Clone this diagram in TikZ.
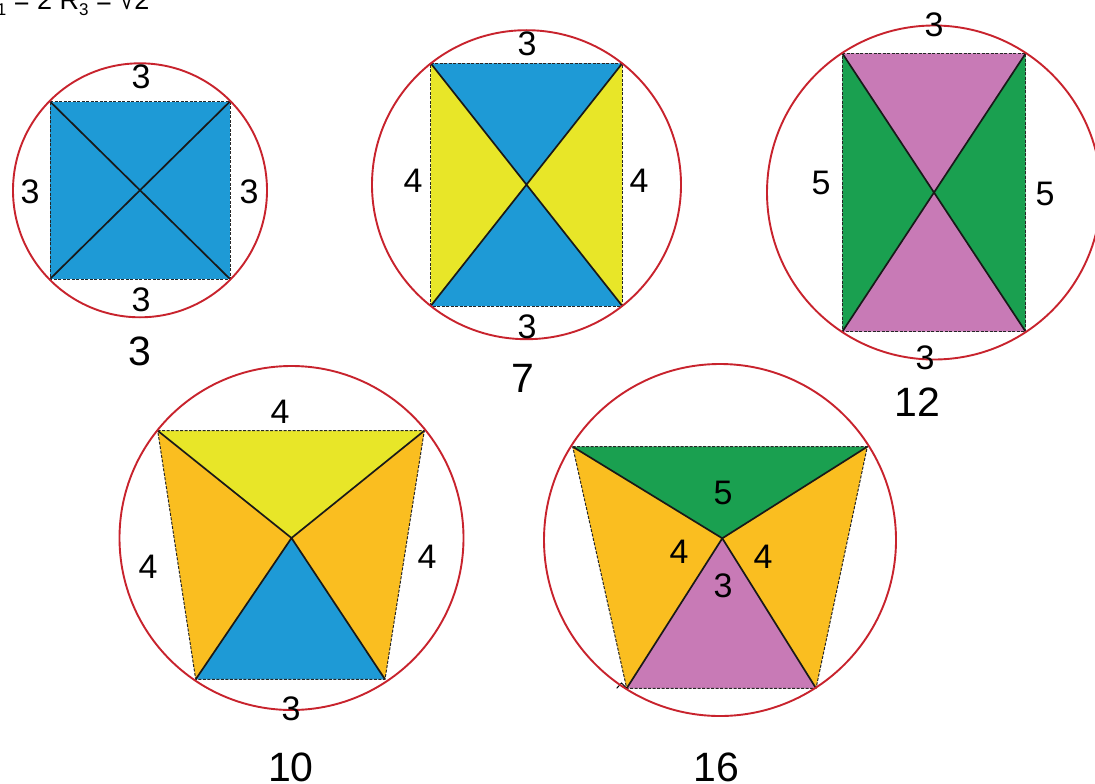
\documentclass[tikz,border=0pt]{standalone}
\usepackage{fontspec}
\setmainfont{Liberation Sans}
\definecolor{cblue}{RGB}{30,154,214}
\definecolor{cyellow}{RGB}{232,230,40}
\definecolor{cgreen}{RGB}{26,160,80}
\definecolor{cpink}{RGB}{200,122,182}
\definecolor{corange}{RGB}{250,190,32}
\definecolor{cred}{RGB}{200,35,45}
\newcommand{\sbt}[1]{\raisebox{-0.2em}{\fontsize{17}{17}\selectfont #1}}
\tikzset{
  ring/.style={draw=cred,line width=1.9pt},
  diag/.style={draw=black!90,line width=1.7pt,line join=round},
  rimline/.style={draw=black!85,line width=1pt,dash pattern=on 3pt off 1.5pt},
  lab/.style={inner sep=0pt,font=\fontsize{34}{34}\selectfont},
  capt/.style={inner sep=0pt,font=\fontsize{41}{41}\selectfont},
}
\begin{document}
\begin{tikzpicture}[x=1pt,y=-1pt]
\useasboundingbox (0,0) rectangle (1095,784);
\clip (0,0) rectangle (1095,784);
\fill[white] (0,0) rectangle (1095,784);

% title (cut at the top)
\node[anchor=base west,inner sep=0pt,font=\fontsize{27}{27}\selectfont] (title) at (-22.7,10) {R\sbt{1} = 2 R\sbt{3} = √2};

% ---------- figure 3 (square) ----------
\coordinate (a1) at (50,101.5);
\coordinate (b1) at (230,101.5);
\coordinate (c1) at (230,279);
\coordinate (d1) at (50,279);
\coordinate (o1) at (140,190.3);
\fill[cblue] (a1) -- (b1) -- (c1) -- (d1) -- cycle;
\draw[diag] (a1) -- (c1) (b1) -- (d1);
\draw[rimline] (a1) -- (b1) -- (c1) -- (d1) -- cycle;
\draw[ring] (o1) circle[radius=127];
\node[lab] (t1) at (141,77) {3};
\node[lab] (l1) at (30,191.5) {3};
\node[lab] (r1) at (249,191.5) {3};
\node[lab] (u1) at (141,300) {3};
\node[capt] (n1) at (140,351) {3};

% ---------- figure 7 ----------
\coordinate (a2) at (430.7,63.3);
\coordinate (b2) at (622.3,63.3);
\coordinate (c2) at (622.3,306);
\coordinate (d2) at (430.7,306);
\coordinate (o2) at (526.5,184.7);
\fill[cblue] (a2) -- (b2) -- (o2) -- cycle;
\fill[cblue] (d2) -- (c2) -- (o2) -- cycle;
\fill[cyellow] (a2) -- (d2) -- (o2) -- cycle;
\fill[cyellow] (b2) -- (c2) -- (o2) -- cycle;
\draw[diag] (a2) -- (c2) (b2) -- (d2);
\draw[rimline] (a2) -- (b2) -- (c2) -- (d2) -- cycle;
\draw[ring] (o2) circle[radius=154.5];
\node[lab] (t2) at (527,44) {3};
\node[lab] (l2) at (413,181) {4};
\node[lab] (r2) at (639,181) {4};
\node[lab] (u2) at (527,327) {3};
\node[capt] (n2) at (523,378) {7};

% ---------- figure 12 ----------
\coordinate (a3) at (842.3,53.3);
\coordinate (b3) at (1025.7,53.3);
\coordinate (c3) at (1025.7,331.7);
\coordinate (d3) at (842.3,331.7);
\coordinate (o3) at (934,192.5);
\fill[cpink] (a3) -- (b3) -- (o3) -- cycle;
\fill[cpink] (d3) -- (c3) -- (o3) -- cycle;
\fill[cgreen] (a3) -- (d3) -- (o3) -- cycle;
\fill[cgreen] (b3) -- (c3) -- (o3) -- cycle;
\draw[diag] (a3) -- (c3) (b3) -- (d3);
\draw[rimline] (a3) -- (b3) -- (c3) -- (d3) -- cycle;
\draw[ring] (o3) circle[radius=167];
\node[lab] (t3) at (934,25) {3};
\node[lab] (l3) at (821,182.5) {5};
\node[lab] (r3) at (1045,194) {5};
\node[lab] (u3) at (925,358) {3};
\node[capt] (n3) at (917,402) {12};

% ---------- figure 10 ----------
\coordinate (a4) at (157.7,430.7);
\coordinate (b4) at (424.3,430.7);
\coordinate (c4) at (385,679.3);
\coordinate (d4) at (195.7,679.3);
\coordinate (o4) at (291.5,538);
\fill[cyellow] (a4) -- (b4) -- (o4) -- cycle;
\fill[corange] (a4) -- (d4) -- (o4) -- cycle;
\fill[corange] (b4) -- (c4) -- (o4) -- cycle;
\fill[cblue] (d4) -- (c4) -- (o4) -- cycle;
\draw[diag] (a4) -- (o4) -- (c4) (b4) -- (o4) -- (d4);
\draw[rimline] (a4) -- (b4) -- (c4) -- (d4) -- cycle;
\draw[ring] (o4) circle[radius=172];
\node[lab] (t4) at (280,412) {4};
\node[lab] (l4) at (148,567) {4};
\node[lab] (r4) at (427,557) {4};
\node[lab] (u4) at (291,709) {3};
\node[capt] (n4) at (291,767) {10};

% ---------- figure 16 ----------
\coordinate (a5) at (572.7,446.7);
\coordinate (b5) at (867.3,446.7);
\coordinate (c5) at (816,688.3);
\coordinate (d5) at (626.7,688.3);
\coordinate (o5) at (722.3,538.3);
\coordinate (k5) at (720,540);
\fill[cgreen] (a5) -- (b5) -- (o5) -- cycle;
\fill[corange] (a5) -- (d5) -- (o5) -- cycle;
\fill[corange] (b5) -- (c5) -- (o5) -- cycle;
\fill[cpink] (d5) -- (c5) -- (o5) -- cycle;
\draw[diag] (a5) -- (o5) -- (c5) (b5) -- (o5) -- (d5);
\draw[rimline] (a5) -- (b5) -- (c5) -- (d5) -- cycle;
\draw[black,line width=1pt] (616.7,688.3) -- (621.5,683) -- (d5);
\draw[ring] (k5) circle[radius=176];
\node[lab] (t5) at (723,492.5) {5};
\node[lab] (l5) at (679,552) {4};
\node[lab] (r5) at (763,557) {4};
\node[lab] (m5) at (723,586) {3};
\node[capt] (n5) at (716,767) {16};
\end{tikzpicture}
\end{document}
